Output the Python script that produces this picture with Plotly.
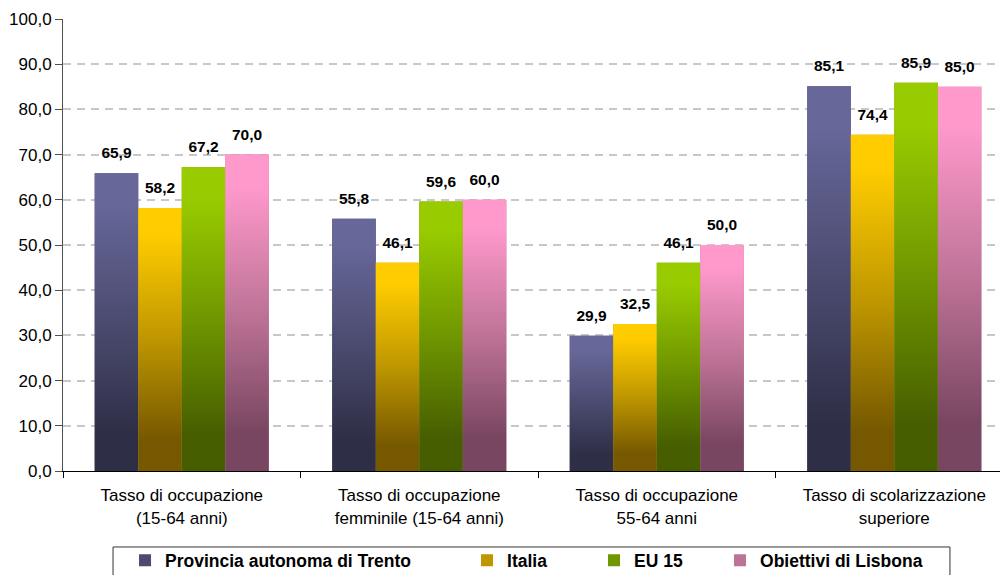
import plotly.graph_objects as go

# ---------------- data ----------------
categories = [
    "Tasso di occupazione<br>(15-64 anni)",
    "Tasso di occupazione<br>femminile (15-64 anni)",
    "Tasso di occupazione<br>55-64 anni",
    "Tasso di scolarizzazione<br>superiore",
]
series_names = ["Provincia autonoma di Trento", "Italia", "EU 15", "Obiettivi di Lisbona"]
trento = [65.9, 55.8, 29.9, 85.1]
italia = [58.2, 46.1, 32.5, 74.4]
eu15 = [67.2, 59.6, 46.1, 85.9]
lisbona = [70.0, 60.0, 50.0, 85.0]
y_tick_values = [0, 10, 20, 30, 40, 50, 60, 70, 80, 90, 100]

# ---------------- styles ----------------
series_values = [trento, italia, eu15, lisbona]
top_colors = ["rgb(103,103,154)", "rgb(255,204,0)", "rgb(153,204,0)", "rgb(255,153,204)"]
mid_colors = ["rgb(75,75,112)", "rgb(190,150,0)", "rgb(112,150,0)", "rgb(190,115,150)"]
bottom_colors = ["rgb(46,46,70)", "rgb(118,88,0)", "rgb(70,94,0)", "rgb(120,70,96)"]

BARGAP = 0.267
N = len(series_names)
BAR_W = (1 - BARGAP) / N
X_RANGE = [-0.5, 3.445]
FONT = "Liberation Sans, Arial"

legend_ids = ["legend", "legend2", "legend3", "legend4"]
legend_x = [0.0662, 0.4312, 0.5667, 0.7012]
LEGEND_Y = -0.158


def fmt(v):
    return f"{v:.1f}".replace(".", ",")


fig = go.Figure()

# real bars (legend + base)
for j, (name, vals) in enumerate(zip(series_names, series_values)):
    fig.add_trace(go.Bar(
        x=categories, y=vals, name=name,
        marker=dict(color=mid_colors[j], line=dict(width=0)),
        legend=legend_ids[j], xaxis="x", yaxis="y",
        hoverinfo="skip",
    ))

# gradient overlays drawn over each bar on an overlaid linear x axis
for j, (name, vals) in enumerate(zip(series_names, series_values)):
    for i, v in enumerate(vals):
        x0 = i + (j - N / 2) * BAR_W
        x1 = x0 + BAR_W
        fig.add_trace(go.Scatter(
            x=[x0, x1, x1, x0, x0], y=[0, 0, v, v, 0],
            mode="lines", fill="toself",
            line=dict(width=0, color=top_colors[j]),
            fillgradient=dict(type="vertical",
                              colorscale=[[0, bottom_colors[j]], [0.12, bottom_colors[j]],
                                          [0.5, mid_colors[j]], [0.9, top_colors[j]],
                                          [1, top_colors[j]]]),
            showlegend=False, hoverinfo="skip", xaxis="x2", yaxis="y",
        ))

# value labels
for j, (name, vals) in enumerate(zip(series_names, series_values)):
    xs = [i + (j - N / 2 + 0.5) * BAR_W for i in range(len(vals))]
    fig.add_trace(go.Scatter(
        x=xs, y=vals, mode="markers+text",
        marker=dict(size=16, opacity=0),
        text=[fmt(v) for v in vals], textposition="top center",
        textfont=dict(size=15.5, color="black", family=FONT, weight="bold"),
        showlegend=False, hoverinfo="skip", xaxis="x2", yaxis="y",
    ))

legend_style = dict(
    orientation="h", xanchor="left", y=LEGEND_Y, yanchor="top",
    borderwidth=0, bgcolor="rgba(0,0,0,0)",
    font=dict(size=17.5, weight="bold", family=FONT, color="black"),
)

fig.update_layout(
    width=1000, height=575,
    margin=dict(l=63, r=0, t=19, b=104, pad=0, autoexpand=False),
    paper_bgcolor="white", plot_bgcolor="white",
    font=dict(family=FONT, size=17, color="black"),
    separators=",.",
    barmode="group", bargap=BARGAP, bargroupgap=0,
    xaxis=dict(
        type="category", range=X_RANGE, tickson="boundaries",
        ticks="outside", ticklen=6, tickcolor="black", tickwidth=1,
        showline=True, linecolor="black", linewidth=1,
        showgrid=False, tickfont=dict(size=17), automargin=False,
        ticklabelstandoff=9,
    ),
    xaxis2=dict(overlaying="x", range=X_RANGE, visible=False, type="linear"),
    yaxis=dict(
        range=[0, 100], tickvals=y_tick_values, tickformat=".1f",
        showline=True, linecolor="#505050", linewidth=1,
        ticks="outside", ticklen=7, tickcolor="#505050",
        showgrid=True, gridcolor="#c8c8c8", gridwidth=1.5, griddash="8px,6px",
        zeroline=False, tickfont=dict(size=17), automargin=False,
    ),
    showlegend=True,
    shapes=[dict(
        type="rect", xref="paper", yref="paper",
        x0=0.0534, x1=0.9466, y0=-0.1681, y1=-0.35,
        line=dict(color="#333333", width=1), fillcolor="rgba(0,0,0,0)",
        layer="above",
    )],
)
for lid, lx in zip(legend_ids, legend_x):
    fig.update_layout({lid: dict(legend_style, x=lx)})

fig.write_html("out.html")
